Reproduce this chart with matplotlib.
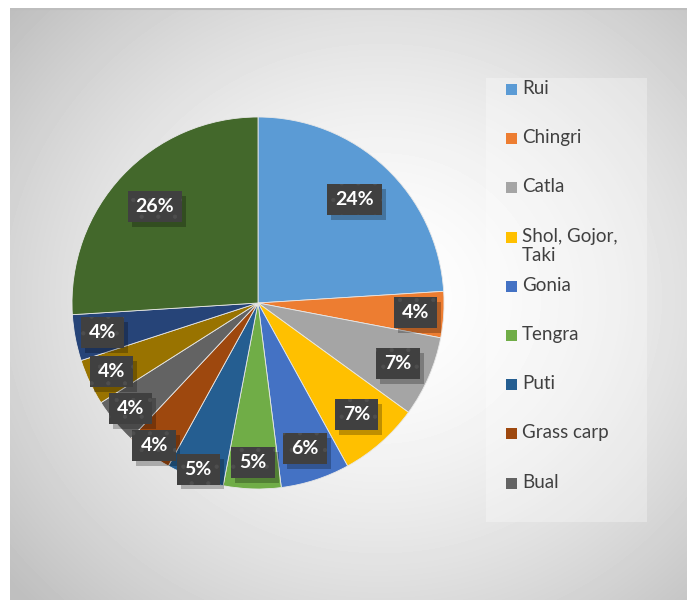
import numpy as np
import matplotlib.pyplot as plt
from matplotlib.patches import Rectangle
from matplotlib.transforms import IdentityTransform

# fish species share of catch
species = ['Rui', 'Chingri', 'Catla', 'Shol, Gojor,\nTaki', 'Gonia', 'Tengra',
           'Puti', 'Grass carp', 'Bual', 'Pabda', 'Magur', 'Others']
shares = [24, 4, 7, 7, 6, 5, 5, 4, 4, 4, 4, 26]
colors = ['#5B9BD5', '#ED7D31', '#A5A5A5', '#FFC000', '#4472C4', '#70AD47',
          '#255E91', '#9E480E', '#636363', '#997300', '#264478', '#43682B']
n_legend = 9  # only the first entries fit in the legend box

# radial position of each value label (fraction of pie radius)
label_r = [0.76, 0.85, 0.82, 0.80, 0.82, 0.86, 0.95, 0.95, 0.89, 0.87, 0.85, 0.76]

W, H = 687, 600
plt.rcParams['hatch.linewidth'] = 0.6
fig = plt.figure(figsize=(W / 100, H / 100), dpi=100)
fig.patch.set_facecolor('white')

# soft radial gradient panel behind the chart
bg = fig.add_axes([10 / W, 0, (W - 10) / W, (H - 8) / H])
yy, xx = np.mgrid[0:592, 0:677]
d = np.sqrt(((xx - 370) / 420.0) ** 2 + ((yy - 290) / 380.0) ** 2)
shade = 1.0 - 0.2 * np.clip(d, 0, 1.15) ** 1.6
bg.imshow(shade, cmap='gray', vmin=0, vmax=1, aspect='auto',
          interpolation='bilinear')
bg.axhline(0, color='#bdbdbd', lw=1.5)
bg.set_axis_off()

# pie
cx, cy, r = 258, 303, 186
ax = fig.add_axes([(cx - r) / W, (H - cy - r) / H, 2 * r / W, 2 * r / H])
wedges, _ = ax.pie(shares, colors=colors, startangle=90, counterclock=False,
                   radius=1, wedgeprops=dict(linewidth=0.6, edgecolor='#e8e8e8'))
ax.set_xlim(-1, 1)
ax.set_ylim(-1, 1)
ax.set_aspect('equal')
ax.set_axis_off()

labels = []
total = float(sum(shares))
start = 90.0
for val, lr in zip(shares, label_r):
    mid = np.deg2rad(start - val / total * 360 / 2)
    start -= val / total * 360
    t = ax.text(lr * np.cos(mid), lr * np.sin(mid), '{:d}%'.format(val),
                ha='center', va='center', color='white', fontsize=14,
                fontweight='bold', family='Lato', zorder=5)
    labels.append(t)

# dark label boxes with a drop shadow, sized from the rendered text
fig.canvas.draw()
renderer = fig.canvas.get_renderer()
pad_x, pad_y = 8, 8
for t in labels:
    bb = t.get_window_extent(renderer)
    x0, y0 = bb.x0 - pad_x, bb.y0 - pad_y + 1
    w, h = bb.width + 2 * pad_x, bb.height + 2 * pad_y - 2
    ax.add_patch(Rectangle((x0 + 4, y0 - 5), w, h, transform=IdentityTransform(),
                           fc='black', ec='none', alpha=0.25, zorder=3))
    ax.add_patch(Rectangle((x0, y0), w, h, transform=IdentityTransform(),
                           fc='#404040', ec='#4e4e4e', lw=0, hatch='.',
                           zorder=4))

# legend panel
fig.patches.append(Rectangle((486 / W, 1 - 522 / H), 161 / W, 444 / H,
                             transform=fig.transFigure, fc='white', ec='none',
                             alpha=0.3, zorder=1))
for i in range(n_legend):
    y = 1 - (90 + i * 49.2) / H
    fig.patches.append(Rectangle((506 / W, y - 5 / H), 11 / W, 11 / H,
                                 transform=fig.transFigure, fc=colors[i],
                                 ec='none', zorder=2))
    fig.text(522 / W, y + 10 / H, species[i], ha='left', va='top',
             fontsize=13.5, color='#404040', family='Lato', linespacing=1.2)

fig.savefig('out.png', dpi=100)
